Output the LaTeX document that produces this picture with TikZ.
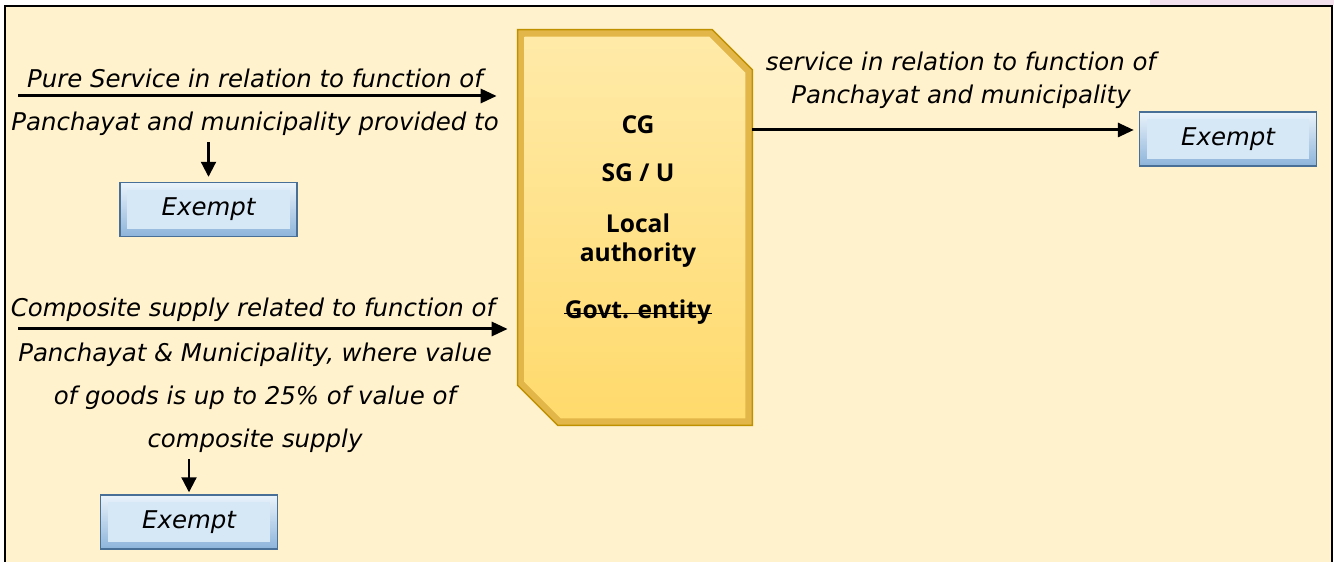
\documentclass[tikz,border=0pt]{standalone}
\usepackage{fontspec}
\setmainfont{Open Sans}
\newfontfamily\handfont{DejaVu Sans}
\usetikzlibrary{calc,arrows.meta}

\definecolor{cream}{HTML}{FFF2CC}
\definecolor{blush}{HTML}{F2E1EC}
\definecolor{goldedge}{HTML}{BF9000}
\definecolor{goldrim}{HTML}{E2B648}
\definecolor{goldtop}{HTML}{FFEAA8}
\definecolor{goldbot}{HTML}{FFDA6C}
\definecolor{blueedge}{HTML}{4A6F96}
\definecolor{bluetop}{HTML}{EAF3FB}
\definecolor{bluebot}{HTML}{8DB4DA}
\definecolor{blueface}{HTML}{D6E7F6}

\begin{document}
\begin{tikzpicture}[
  txt/.style={font=\handfont\itshape\fontsize{13.9}{17}\selectfont,inner sep=0pt,align=center},
  hubtxt/.style={font=\bfseries\fontsize{14}{16.5}\selectfont,inner sep=0pt,align=center},
  hub/.style={rectangle,minimum width=4.68cm,minimum height=7.9cm,inner sep=0pt},
  exempt/.style={rectangle,draw=blueedge,line width=0.8pt,
    minimum width=3.54cm,minimum height=1.08cm,
    top color=bluetop,bottom color=bluebot,
    path picture={\fill[blueface] ([shift={(4pt,4pt)}]path picture bounding box.south west)
      rectangle ([shift={(-4pt,-4pt)}]path picture bounding box.north east);},
    font=\handfont\itshape\fontsize{13.9}{17}\selectfont},
  flow/.style={-{Triangle[length=0.32cm,width=0.28cm]},line width=1.7pt},
  drop/.style={-{Triangle[length=0.3cm,width=0.3cm]},line width=1.2pt}
]

\useasboundingbox (0,0) rectangle (26.68,11.24);
\fill[white] (0,0) rectangle (26.68,11.24);
\fill[blush] (23,11.14) rectangle (26.68,11.24);
\draw[line width=1.6pt,fill=cream] (0.1,-0.3) rectangle (26.64,11.12);

\node[hub] (hub) at (12.7,6.69) {};
\filldraw[draw=goldedge,line width=0.8pt,fill=goldrim]
  (hub.north west) -- ($(hub.north east)+(-0.8,0)$) -- ($(hub.north east)+(0,-0.8)$)
  -- (hub.south east) -- ($(hub.south west)+(0.8,0)$) -- ($(hub.south west)+(0,0.8)$) -- cycle;
\shade[top color=goldtop,bottom color=goldbot]
  ($(hub.north west)+(0.14,-0.14)$) -- ($(hub.north east)+(-0.86,-0.14)$) -- ($(hub.north east)+(-0.14,-0.86)$)
  -- ($(hub.south east)+(-0.14,0.14)$) -- ($(hub.south west)+(0.86,0.14)$) -- ($(hub.south west)+(0.14,0.86)$) -- cycle;
\node[hubtxt] (cg) at (12.76,8.74) {CG};
\node[hubtxt] (sgu) at (12.76,7.78) {SG / U};
\node[hubtxt] (local) at (12.76,6.42) {Local\\authority};
\node[hubtxt] (govt) at (12.76,5.0) {Govt. entity};
\draw[line width=0.6pt] (govt.mid west) -- (govt.mid east);

\node[txt] (pureTop) at (5.1,9.68) {Pure Service in relation to function of};
\node[txt] (pureBot) at (5.1,8.76) {Panchayat and municipality provided to};
\node[exempt] (exPure) at (4.17,7.05) {Exempt};

\node[txt] (compTop) at (5.06,5.04) {Composite supply related to function of};
\node[txt,font=\handfont\itshape\fontsize{13.9}{24.4}\selectfont] (compBot) at (5.1,3.28)
  {Panchayat \& Municipality, where value\\of goods is up to 25\% of value of\\composite supply};
\node[exempt] (exComp) at (3.78,0.8) {Exempt};

\node[txt,font=\handfont\itshape\fontsize{13.9}{18.8}\selectfont] (servTxt) at (19.22,9.63)
  {service in relation to function of\\Panchayat and municipality};
\node[exempt] (exServ) at (24.56,8.46) {Exempt};

\coordinate (inPure) at (0.36,9.32);
\coordinate (inComp) at (0.36,4.66);
\coordinate (outServ) at (15.04,8.64);

\draw[flow] (inPure) -- (inPure -| hub.west) [shorten >=0.42cm];
\draw[flow] (inComp) -- (inComp -| hub.west) [shorten >=0.2cm];
\draw[flow] (outServ) -- (outServ -| exServ.west) [shorten >=0.1cm];
\draw[drop] (exPure.north |- pureBot.south) -- (exPure.north) [shorten <=0.12cm,shorten >=0.1cm];
\draw[drop] (exComp.north |- compBot.south) -- (exComp.north) [shorten <=0.12cm,shorten >=0.04cm];

\end{tikzpicture}
\end{document}
